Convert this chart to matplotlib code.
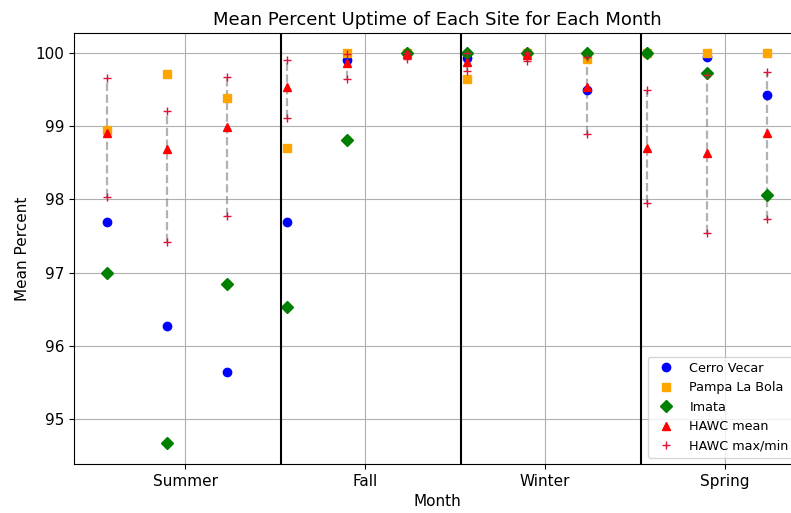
import numpy as np
import matplotlib.pyplot as plt

# months grouped by (southern hemisphere) season
months = ['Dec', 'Jan', 'Feb', 'Mar', 'Apr', 'May',
          'Jun', 'Jul', 'Aug', 'Sep', 'Oct', 'Nov']
seasons = ['Summer', 'Fall', 'Winter', 'Spring']

cerro_vecar = [97.69, 96.27, 95.65, 97.69, 99.90, 99.99,
               99.93, 100.0, 99.50, 100.0, 99.95, 99.42]
pampa_la_bola = [98.95, 99.71, 99.39, 98.70, 100.0, 100.0,
                 99.65, 100.0, 99.92, 100.0, 100.0, 100.0]
imata = [97.00, 94.67, 96.85, 96.53, 98.81, 100.0,
         100.0, 100.0, 100.0, 100.0, 99.73, 98.06]
hawc_mean = [98.91, 98.69, 98.99, 99.53, 99.86, 99.98,
             99.87, 99.97, 99.53, 98.70, 98.64, 98.91]
hawc_max = [99.66, 99.21, 99.67, 99.90, 99.99, 100.0,
            100.0, 100.0, 99.95, 99.50, 99.70, 99.74]
hawc_min = [98.04, 97.42, 97.78, 99.11, 99.65, 99.92,
            99.75, 99.89, 98.89, 97.95, 97.54, 97.73]

x = np.arange(len(months))

fig = plt.figure(figsize=(7.91, 5.13), dpi=100)
ax = fig.add_axes([0.0936, 0.0955, 0.918, 0.840])

# spread between HAWC max and min
ax.vlines(x, hawc_min, hawc_max, colors='gray', linestyles='--',
          linewidth=1.6, alpha=0.6)

ax.plot(x, cerro_vecar, 'o', color='blue', label='Cerro Vecar')
ax.plot(x, pampa_la_bola, 's', color='orange', label='Pampa La Bola')
ax.plot(x, imata, 'D', color='green', label='Imata')
ax.plot(x, hawc_mean, '^', color='red', label='HAWC mean')
ax.plot(x, hawc_max, '+', color='crimson', label='HAWC max/min')
ax.plot(x, hawc_min, '+', color='crimson')

# season boundaries
for b in [2.9, 5.9, 8.9]:
    ax.axvline(b, color='black', linewidth=1.5)

ax.set_xticks([1.3, 4.3, 7.3, 10.3])
ax.set_xticklabels(seasons, fontsize=11)
ax.set_yticks([95, 96, 97, 98, 99, 100])
ax.tick_params(axis='y', labelsize=11)
ax.set_xlim(-0.55, 11.55)
ax.set_ylim(94.39, 100.27)
ax.grid(True)

ax.set_title('Mean Percent Uptime of Each Site for Each Month', fontsize=13)
ax.set_xlabel('Month', fontsize=11)
ax.set_ylabel('Mean Percent', fontsize=11)
ax.legend(loc='lower right', fontsize=9.2)

fig.savefig('out.png')
